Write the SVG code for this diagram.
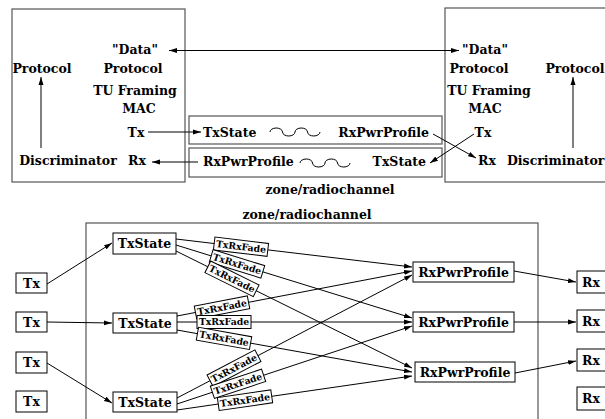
<svg xmlns="http://www.w3.org/2000/svg" width="605" height="419" viewBox="0 0 605 419">
  <style>
    text { font-family: "DejaVu Serif", "Liberation Serif", serif; font-weight: bold; fill: #000; }
    .t { font-size: 12.5px; }
    .s { font-size: 12.5px; }
    .f { font-size: 9.3px; }
    .mid { text-anchor: middle; }
    .end { text-anchor: end; }
    .frame { fill: #fff; stroke: #555; stroke-width: 1.2; }
    .box { fill: #fff; stroke: #000; stroke-width: 1; }
    .ln { fill: none; stroke: #000; stroke-width: 1; }
    .arr { fill: none; stroke: #000; stroke-width: 1; marker-end: url(#ah); }
  </style>
  <defs>
    <marker id="ah" markerUnits="userSpaceOnUse" markerWidth="8" markerHeight="6" refX="8" refY="3" orient="auto-start-reverse">
      <path d="M0,0.5 L8,3 L0,5.5 z" fill="#000"/>
    </marker>
    <g id="fade">
      <rect x="-27" y="-6.5" width="54" height="13" class="box"/>
      <text x="0" y="3.3" class="f mid">TxRxFade</text>
    </g>
  </defs>

  <rect width="605" height="419" fill="#fff"/>

  <!-- upper part: two stations joined by the radio channel -->
  <g id="stationA">
    <rect x="12" y="9" width="173" height="173" class="frame"/>
    <text x="135" y="54" class="t mid">"Data"</text>
    <text x="133" y="73" class="t mid">Protocol</text>
    <text x="135" y="95" class="t mid">TU Framing</text>
    <text x="139" y="113" class="t mid">MAC</text>
    <text x="136" y="137" class="t mid">Tx</text>
    <text x="137" y="165" class="t mid">Rx</text>
    <text x="68" y="165" class="t mid">Discriminator</text>
    <text x="42" y="73" class="t mid">Protocol</text>
  </g>

  <g id="stationB">
    <rect x="445" y="8" width="170" height="174" class="frame"/>
    <text x="485" y="54" class="t mid">"Data"</text>
    <text x="479" y="73" class="t mid">Protocol</text>
    <text x="489" y="95" class="t mid">TU Framing</text>
    <text x="485" y="113" class="t mid">MAC</text>
    <text x="483" y="137" class="t mid">Tx</text>
    <text x="487" y="165" class="t mid">Rx</text>
    <text x="507" y="165" class="t">Discriminator</text>
    <text x="575" y="73" class="t mid">Protocol</text>
  </g>

  <g id="channelAB">
    <rect x="189" y="116" width="253" height="28" class="frame"/>
    <text x="203" y="137" class="t">TxState</text>
    <path d="M270,132 a6.25,4 0 0 1 12.5,0 a6.25,4 0 0 0 12.5,0 a6.25,4 0 0 1 12.5,0 a6.25,4 0 0 0 12.5,0" class="ln"/>
    <text x="429" y="137" class="t end">RxPwrProfile</text>
  </g>

  <g id="channelBA">
    <rect x="189" y="148" width="253" height="29" class="frame"/>
    <text x="203" y="166" class="t">RxPwrProfile</text>
    <path d="M300,163 a6.25,4 0 0 1 12.5,0 a6.25,4 0 0 0 12.5,0 a6.25,4 0 0 1 12.5,0 a6.25,4 0 0 0 12.5,0" class="ln"/>
    <text x="426" y="166" class="t end">TxState</text>
  </g>

  <text x="330" y="194" class="t mid">zone/radiochannel</text>

  <g id="upper-connectors">
    <path d="M169,50.5 H459" class="arr" style="marker-start:url(#ah)"/>
    <path d="M41,148 V77" class="arr"/>
    <path d="M573,148 V77" class="arr"/>
    <path d="M148,132 H201" class="arr"/>
    <path d="M198,162 H152" class="arr"/>
    <path d="M433,134 L476,158" class="arr"/>
    <path d="M474,134 L430,163" class="arr"/>
  </g>

  <!-- lower part: channel model -->
  <text x="307" y="219" class="t mid">zone/radiochannel</text>
  <rect x="86" y="223" width="452" height="210" class="frame"/>

  <g id="lower-connectors">
    <path d="M47,284 L112,243" class="arr"/>
    <path d="M47,322 L112,323" class="arr"/>
    <path d="M47,363 L112,403" class="arr"/>

    <path d="M176,239 L412,267" class="arr"/>
    <path d="M176,245 L412,318" class="arr"/>
    <path d="M176,251 L412,368" class="arr"/>
    <path d="M177,316 L412,271" class="arr"/>
    <path d="M177,322 L412,322" class="arr"/>
    <path d="M177,330 L412,372" class="arr"/>
    <path d="M177,398 L412,275" class="arr"/>
    <path d="M177,404 L412,326" class="arr"/>
    <path d="M177,410 L412,376" class="arr"/>

    <path d="M514,271 L576,282" class="arr"/>
    <path d="M514,322 L576,322" class="arr"/>
    <path d="M515,373 L576,361" class="arr"/>
  </g>

  <g id="fade-labels">
    <use href="#fade" transform="translate(241,246.7) rotate(6.8)"/>
    <use href="#fade" transform="translate(237,263.9) rotate(17.2)"/>
    <use href="#fade" transform="translate(232,278.8) rotate(26.4)"/>
    <use href="#fade" transform="translate(222,307.4) rotate(-10.8)"/>
    <use href="#fade" transform="translate(224,322)"/>
    <use href="#fade" transform="translate(224,338.4) rotate(10.1)"/>
    <use href="#fade" transform="translate(234,368.2) rotate(-27.6)"/>
    <use href="#fade" transform="translate(238,383.8) rotate(-18.4)"/>
    <use href="#fade" transform="translate(245,400.2) rotate(-8.2)"/>
  </g>

  <g id="tx1"><rect x="16" y="273" width="31" height="20" class="box"/><text x="31.5" y="288" class="s mid">Tx</text></g>
  <g id="tx2"><rect x="16" y="312" width="31" height="20" class="box"/><text x="31.5" y="327" class="s mid">Tx</text></g>
  <g id="tx3"><rect x="16" y="352" width="31" height="21" class="box"/><text x="31.5" y="367" class="s mid">Tx</text></g>
  <g id="tx4"><rect x="16" y="391" width="31" height="21" class="box"/><text x="31.5" y="406" class="s mid">Tx</text></g>

  <g id="txstate1"><rect x="113" y="233" width="63" height="21" class="box"/><text x="144.5" y="248" class="s mid">TxState</text></g>
  <g id="txstate2"><rect x="113" y="313" width="64" height="20" class="box"/><text x="145" y="328" class="s mid">TxState</text></g>
  <g id="txstate3"><rect x="113" y="392" width="64" height="20" class="box"/><text x="145" y="407" class="s mid">TxState</text></g>

  <g id="rxpwr1"><rect x="413" y="262" width="101" height="20" class="box"/><text x="463.5" y="277" class="s mid">RxPwrProfile</text></g>
  <g id="rxpwr2"><rect x="413" y="312" width="101" height="20" class="box"/><text x="463.5" y="327" class="s mid">RxPwrProfile</text></g>
  <g id="rxpwr3"><rect x="415" y="362" width="100" height="20" class="box"/><text x="465" y="377" class="s mid">RxPwrProfile</text></g>

  <g id="rx1"><rect x="577" y="271" width="40" height="22" class="box"/><text x="582" y="287" class="s">Rx</text></g>
  <g id="rx2"><rect x="577" y="310" width="40" height="22" class="box"/><text x="582" y="326" class="s">Rx</text></g>
  <g id="rx3"><rect x="577" y="349" width="40" height="22" class="box"/><text x="582" y="365" class="s">Rx</text></g>
  <g id="rx4"><rect x="577" y="387" width="40" height="23" class="box"/><text x="582" y="403" class="s">Rx</text></g>
</svg>
